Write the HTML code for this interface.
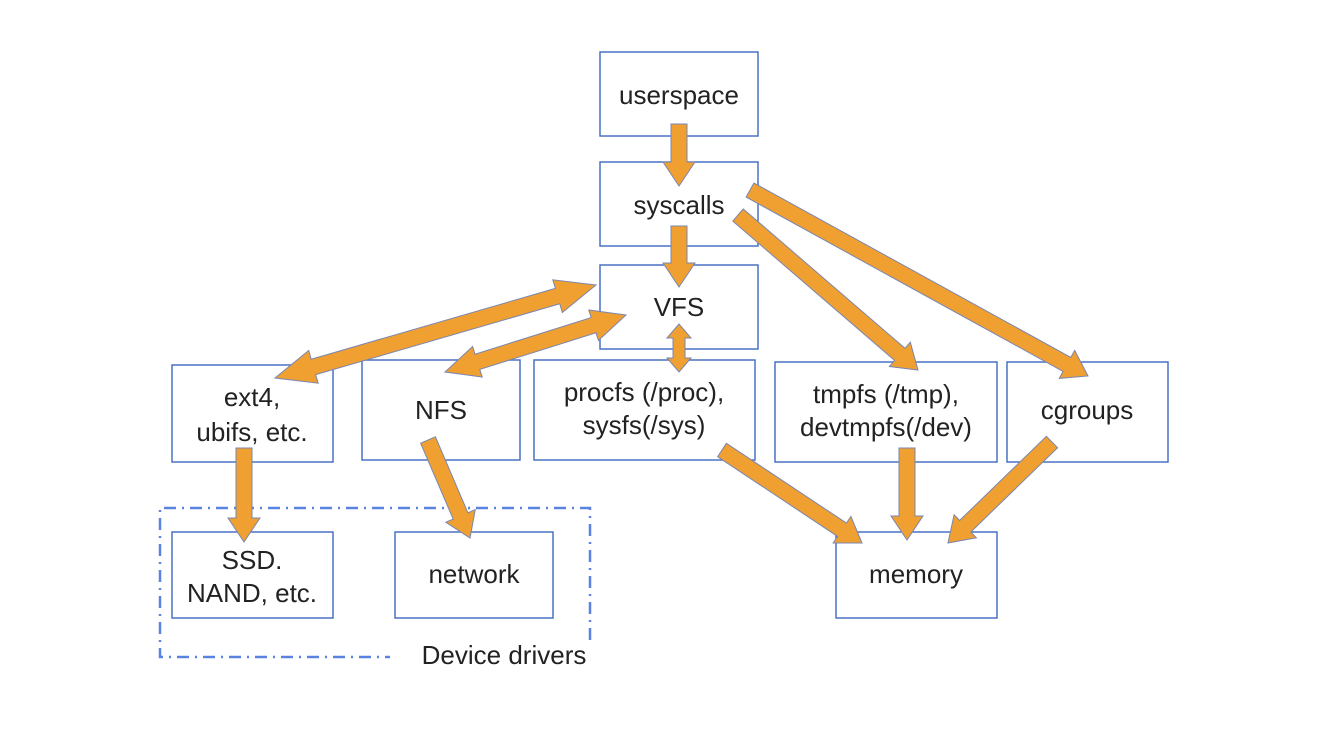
<!DOCTYPE html>
<html><head><style>
html,body{margin:0;padding:0;background:#fff;}
svg{display:block;}
text{font-family:"Liberation Sans",sans-serif;font-size:26px;fill:#222;text-anchor:middle;}
.b{fill:#fff;stroke:#4a72c4;stroke-width:1.5;}
</style></head><body>
<svg id="s" width="1332" height="742" viewBox="0 0 1332 742">
<rect class="b" x="600" y="52" width="158" height="84"/>
<rect class="b" x="600" y="162" width="158" height="84"/>
<rect class="b" x="600" y="265" width="158" height="84"/>
<rect class="b" x="172" y="365" width="161" height="97"/>
<rect class="b" x="362" y="360" width="158" height="100"/>
<rect class="b" x="534" y="360" width="221" height="100"/>
<rect class="b" x="775" y="362" width="222" height="100"/>
<rect class="b" x="1007" y="362" width="161" height="100"/>
<rect class="b" x="172" y="532" width="161" height="86"/>
<rect class="b" x="395" y="532" width="158" height="86"/>
<rect class="b" x="836" y="532" width="161" height="86"/>
<path d="M590 640 V508 H160 V657 H390" fill="none" stroke="#5a82e0" stroke-width="2.5" stroke-dasharray="12 6 2 6"/>
<g id="arr"></g>
<text x="679" y="104">userspace</text>
<text x="679" y="214">syscalls</text>
<text x="679" y="316">VFS</text>
<text x="252" y="406">ext4,</text>
<text x="252" y="441">ubifs, etc.</text>
<text x="441" y="419">NFS</text>
<text x="644" y="401">procfs (/proc),</text>
<text x="644" y="434">sysfs(/sys)</text>
<text x="886" y="403">tmpfs (/tmp),</text>
<text x="886" y="436">devtmpfs(/dev)</text>
<text x="1087" y="419">cgroups</text>
<text x="252" y="569">SSD.</text>
<text x="252" y="602">NAND, etc.</text>
<text x="474" y="583">network</text>
<text x="916" y="583">memory</text>
<text x="504" y="664">Device drivers</text>
</svg>
<script>
function arrow(x1,y1,x2,y2,dbl,w,hw,hl){
 w=w||16;hw=hw||32;hl=hl||24;
 var dx=x2-x1,dy=y2-y1,L=Math.hypot(dx,dy),ux=dx/L,uy=dy/L,nx=-uy,ny=ux;
 function p(t,o){return [x1+ux*t+nx*o,y1+uy*t+ny*o];}
 var pts=[];
 if(dbl){pts.push(p(0,0),p(hl,hw/2),p(hl,w/2));}else{pts.push(p(0,w/2));}
 pts.push(p(L-hl,w/2),p(L-hl,hw/2),p(L,0),p(L-hl,-hw/2),p(L-hl,-w/2));
 if(dbl){pts.push(p(hl,-w/2),p(hl,-hw/2));}else{pts.push(p(0,-w/2));}
 return '<polygon points="'+pts.map(function(q){return q[0].toFixed(1)+','+q[1].toFixed(1)}).join(' ')+'" fill="#f0a030" stroke="#7a86b0" stroke-width="1"/>';
}
var a='';
a+=arrow(679,124,679,186);
a+=arrow(679,226,679,287);
a+=arrow(679,324,679,372,true,12,24,14);
a+=arrow(738,215,918,370);
a+=arrow(750,190,1088,376);
a+=arrow(596,285,275,378,true,16,34,40);
a+=arrow(626,315,445,372,true,16,32,34);
a+=arrow(244,448,244,542);
a+=arrow(428,440,470,538);
a+=arrow(722,450,862,543);
a+=arrow(907,448,907,540);
a+=arrow(1052,442,948,543);
document.getElementById('arr').innerHTML=a;
</script>
</body></html>
